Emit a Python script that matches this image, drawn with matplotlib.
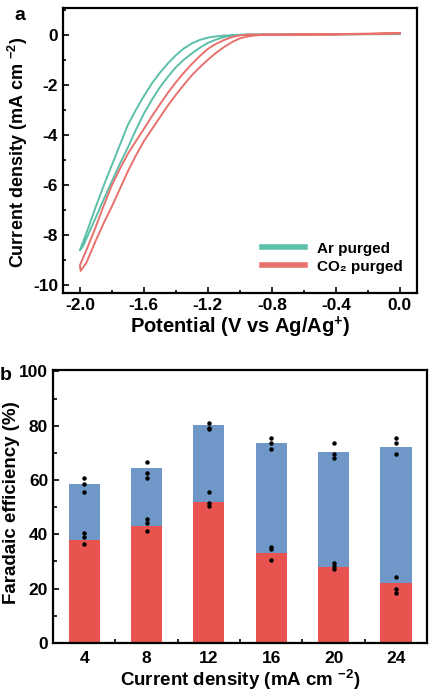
import numpy as np
import matplotlib.pyplot as plt
from matplotlib.ticker import MultipleLocator, FormatStrFormatter

plt.rcParams['font.family'] = ['Liberation Sans', 'DejaVu Sans']
plt.rcParams['font.weight'] = 'bold'
plt.rcParams['axes.unicode_minus'] = False
plt.rcParams['mathtext.fontset'] = 'custom'
plt.rcParams['mathtext.rm'] = 'Liberation Sans:bold'
plt.rcParams['mathtext.bf'] = 'Liberation Sans:bold'
plt.rcParams['mathtext.default'] = 'bf'

# panel a: polarisation loops (potential in V, current density in mA cm-2)
ar_v_fwd = [0.0, -0.4, -0.8, -0.95, -1.0, -1.05, -1.1, -1.15, -1.2, -1.25, -1.3, -1.35, -1.4, -1.45,
            -1.5, -1.55, -1.6, -1.65, -1.7, -1.75, -1.8, -1.85, -1.9, -1.95, -2.0]
ar_j_fwd = [0.03, 0.02, 0.0, 0.0, -0.01, -0.02, -0.04, -0.07, -0.12, -0.21, -0.35, -0.55, -0.82, -1.15,
            -1.52, -1.95, -2.45, -3.0, -3.6, -4.4, -5.2, -6.0, -6.85, -7.75, -8.6]
ar_v_rev = [-1.98, -1.95, -1.9, -1.85, -1.8, -1.75, -1.7, -1.65, -1.6, -1.55, -1.5, -1.45, -1.4,
            -1.35, -1.3, -1.25, -1.2, -1.15, -1.1, -1.05, -1.0, -0.95, -0.8, -0.4, 0.0]
ar_j_rev = [-8.43, -8.0, -7.28, -6.55, -5.85, -5.15, -4.5, -3.8, -3.15, -2.6, -2.1, -1.68, -1.3,
            -1.0, -0.75, -0.52, -0.33, -0.2, -0.1, -0.04, -0.01, 0.0, 0.0, 0.01, 0.02]

co2_v_fwd = [0.0, -0.4, -0.8, -0.95, -1.0, -1.05, -1.1, -1.15, -1.2, -1.25, -1.3, -1.35, -1.4, -1.45,
             -1.5, -1.55, -1.6, -1.65, -1.7, -1.75, -1.8, -1.85, -1.9, -1.95, -2.0]
co2_j_fwd = [0.06, 0.02, 0.0, 0.0, -0.03, -0.1, -0.22, -0.37, -0.57, -0.85, -1.17, -1.52, -1.9, -2.32,
             -2.78, -3.26, -3.76, -4.25, -4.75, -5.35, -6.0, -6.8, -7.65, -8.45, -9.2]
co2_v_rev = [-1.995, -1.96, -1.9, -1.85, -1.8, -1.75, -1.7, -1.65, -1.6, -1.55, -1.5, -1.45, -1.4,
             -1.35, -1.3, -1.25, -1.2, -1.15, -1.1, -1.05, -1.0, -0.95, -0.9, -0.85, -0.4, 0.0]
co2_j_rev = [-9.42, -9.1, -8.2, -7.5, -6.85, -6.15, -5.45, -4.82, -4.25, -3.77, -3.3, -2.83, -2.4,
             -2.0, -1.62, -1.3, -1.0, -0.73, -0.5, -0.3, -0.15, -0.07, -0.03, 0.0, 0.0, 0.05]

# panel b: faradaic efficiency (%)
current = ['4', '8', '12', '16', '20', '24']
fe_red = [37.9, 43.1, 51.9, 33.0, 28.1, 22.0]
fe_total = [58.4, 64.3, 80.2, 73.5, 70.4, 72.3]
red_pts = [[40.4, 39.1, 36.3], [45.5, 44.0, 41.2], [55.5, 51.4, 50.6],
           [35.5, 34.5, 30.6], [29.3, 28.3, 27.1], [24.4, 19.8, 18.5]]
total_pts = [[60.6, 58.5, 55.5], [66.6, 62.5, 60.6], [81.1, 79.0, 78.7],
             [75.6, 73.5, 71.3], [73.5, 69.4, 68.2], [75.6, 73.5, 69.4]]

teal = '#5cbfa9'
pink = '#e8716d'
red = '#e8534f'
blue = '#6f97c8'

fig = plt.figure(figsize=(4.31, 6.91), dpi=100)

ax = fig.add_axes([0.146, 0.576, 0.821, 0.412])
ax.plot(ar_v_fwd + ar_v_rev, ar_j_fwd + ar_j_rev, color=teal, lw=1.4, label='Ar purged')
ax.plot(co2_v_fwd + co2_v_rev, co2_j_fwd + co2_j_rev, color=pink, lw=1.4, label='CO₂ purged')
ax.set_xlim(-2.106, 0.106)
ax.set_ylim(-10.3, 1.05)
ax.xaxis.set_major_locator(MultipleLocator(0.4))
ax.xaxis.set_minor_locator(MultipleLocator(0.2))
ax.xaxis.set_major_formatter(FormatStrFormatter('%.1f'))
ax.yaxis.set_major_locator(MultipleLocator(2))
ax.yaxis.set_minor_locator(MultipleLocator(1))
ax.tick_params(which='both', direction='in', labelsize=12.5, width=1.2)
ax.tick_params(which='major', length=4)
ax.tick_params(which='minor', length=2.5)
for s in ax.spines.values():
    s.set_linewidth(1.6)
ax.set_xlabel('Potential (V vs Ag/Ag$^{+}$)', fontsize=14.5, fontweight='bold', labelpad=1)
ax.set_ylabel('Current density (mA cm $^{-2}$)', fontsize=13, fontweight='bold')
ax.yaxis.set_label_coords(-0.093, 0.495)
leg = ax.legend(loc='lower right', frameon=False, fontsize=11, handlelength=2.8,
                labelspacing=0.25, bbox_to_anchor=(1.0, 0.02))
for h in leg.get_lines():
    h.set_linewidth(4)
fig.text(0.047, 0.978, 'a', fontsize=14, fontweight='bold', va='center', ha='center')

bx = fig.add_axes([0.123, 0.0695, 0.868, 0.395])
x = np.arange(len(current))
fe_blue = np.array(fe_total) - np.array(fe_red)
bx.bar(x, fe_red, width=0.5, color=red)
bx.bar(x, fe_blue, width=0.5, bottom=fe_red, color=blue)
for i in range(len(current)):
    bx.plot([x[i]] * 3, red_pts[i], 'o', color='k', ms=2.2)
    bx.plot([x[i]] * 3, total_pts[i], 'o', color='k', ms=2.2)
bx.set_xlim(-0.5, 5.5)
bx.set_ylim(0, 100.5)
bx.set_xticks(x)
bx.set_xticklabels(current)
bx.set_xticks(x[:-1] + 0.5, minor=True)
bx.yaxis.set_major_locator(MultipleLocator(20))
bx.yaxis.set_minor_locator(MultipleLocator(10))
bx.tick_params(which='both', direction='in', labelsize=12.5, width=1.2)
bx.tick_params(axis='x', which='major', length=0, pad=6)
bx.tick_params(axis='y', which='major', length=4)
bx.tick_params(which='minor', length=3)
for s in bx.spines.values():
    s.set_linewidth(1.6)
bx.set_xlabel('Current density (mA cm $^{-2}$)', fontsize=13.5, fontweight='bold', labelpad=1)
bx.set_ylabel('Faradaic efficiency (%)', fontsize=13.5, fontweight='bold')
bx.yaxis.set_label_coords(-0.088, 0.513)
fig.text(0.014, 0.457, 'b', fontsize=14, fontweight='bold', va='center', ha='center')

fig.savefig('out.png', dpi=100)
